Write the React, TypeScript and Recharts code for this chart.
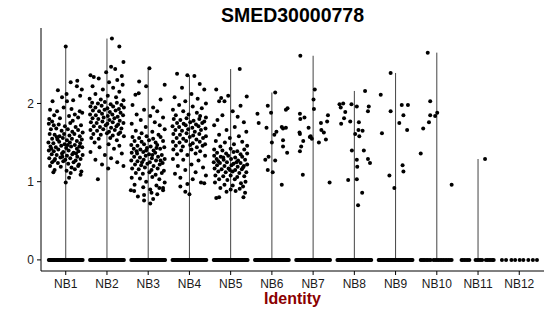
import React from 'react';
import { ComposedChart, Scatter, XAxis, YAxis, ReferenceLine } from 'recharts';

const CATEGORIES = ['NB1', 'NB2', 'NB3', 'NB4', 'NB5', 'NB6', 'NB7', 'NB8', 'NB9', 'NB10', 'NB11', 'NB12'];

// top of each violin (max expression per cluster)
const VIOLIN_MAX = [2.73, 2.83, 2.46, 2.36, 2.44, 2.14, 2.61, 2.16, 2.39, 2.65, 1.29, 0];

// non-zero cells: [jitter offset, expression]
const NB1_PTS = [
  [0.00, 2.73], [0.12, 2.27], [0.28, 2.29], [-0.19, 2.17], [0.02, 2.12], [0.27, 2.22], [0.39, 2.18],
  [-0.32, 2.03], [0.03, 2.03], [0.18, 2.04], [-0.09, 2.08], [0.35, 2.10], [-0.38, 1.92], [-0.21, 1.90],
  [0.34, 1.90], [0.40, 1.88], [-0.05, 1.95], [0.14, 1.93], [-0.28, 1.85], [0.22, 1.86], [0.08, 1.84],
  [-0.40, 1.80], [0.30, 1.82], [-0.14, 1.81], [-0.33, 1.77], [0.17, 1.78],
  [-0.41, 1.74], [-0.29, 1.72], [-0.17, 1.73], [-0.02, 1.71], [0.11, 1.75], [0.24, 1.70], [0.37, 1.72],
  [-0.36, 1.67], [-0.23, 1.68], [-0.10, 1.65], [0.05, 1.67], [0.16, 1.64], [0.30, 1.66], [0.41, 1.63],
  [-0.39, 1.61], [-0.27, 1.60], [-0.15, 1.58], [-0.04, 1.61], [0.09, 1.59], [0.21, 1.61], [0.34, 1.58],
  [-0.33, 1.55], [-0.20, 1.54], [-0.07, 1.56], [0.03, 1.53], [0.15, 1.55], [0.27, 1.52], [0.39, 1.54],
  [-0.42, 1.50], [-0.30, 1.49], [-0.16, 1.51], [-0.03, 1.48], [0.10, 1.50], [0.22, 1.47], [0.35, 1.49],
  [-0.37, 1.45], [-0.24, 1.44], [-0.11, 1.46], [0.01, 1.43], [0.13, 1.45], [0.27, 1.42], [0.40, 1.44],
  [-0.41, 1.40], [-0.29, 1.39], [-0.18, 1.41], [-0.06, 1.38], [0.07, 1.40], [0.19, 1.37], [0.31, 1.39],
  [-0.34, 1.35], [-0.22, 1.34], [-0.09, 1.36], [0.03, 1.33], [0.16, 1.35], [0.28, 1.32], [0.41, 1.34],
  [-0.40, 1.30], [-0.26, 1.29], [-0.13, 1.31], [-0.01, 1.28], [0.11, 1.30], [0.24, 1.27], [0.36, 1.29],
  [-0.33, 1.25], [-0.19, 1.24], [-0.06, 1.26], [0.06, 1.23], [0.19, 1.25], [0.32, 1.22],
  [-0.38, 1.20], [-0.12, 1.19], [0.14, 1.18], [0.30, 1.20], [-0.27, 1.15], [0.02, 1.14], [0.22, 1.16],
  [0.38, 1.13], [0.12, 1.11], [0.36, 1.09], [0.08, 1.05], [-0.30, 1.12], [0.00, 0.99],
  [-0.35, 1.42], [0.05, 1.47], [-0.22, 1.57], [0.25, 1.36], [-0.08, 1.32], [0.33, 1.45], [-0.28, 1.27],
];

const NB2_PTS = [
  [0.12, 2.83], [0.30, 2.73], [0.40, 2.53], [0.10, 2.47], [-0.02, 2.40], [0.20, 2.44], [-0.32, 2.34],
  [-0.40, 2.36], [0.36, 2.35], [0.25, 2.30], [-0.20, 2.32], [0.05, 2.27], [-0.35, 2.22], [0.15, 2.20],
  [0.38, 2.24], [-0.10, 2.18], [0.30, 2.15], [-0.28, 2.12], [0.02, 2.10], [0.22, 2.08], [-0.42, 2.06],
  [-0.15, 2.05], [0.40, 2.04],
  [-0.36, 2.01], [-0.22, 2.00], [-0.05, 2.02], [0.09, 1.99], [0.24, 2.01], [0.35, 1.98],
  [-0.40, 1.96], [-0.28, 1.95], [-0.13, 1.97], [0.01, 1.94], [0.15, 1.96], [0.29, 1.93], [0.41, 1.95],
  [-0.34, 1.91], [-0.19, 1.90], [-0.06, 1.92], [0.07, 1.89], [0.21, 1.91], [0.33, 1.88],
  [-0.41, 1.86], [-0.27, 1.85], [-0.12, 1.87], [0.02, 1.84], [0.13, 1.86], [0.26, 1.83], [0.39, 1.85],
  [-0.35, 1.81], [-0.21, 1.80], [-0.08, 1.82], [0.06, 1.79], [0.18, 1.81], [0.31, 1.78],
  [-0.39, 1.76], [-0.25, 1.75], [-0.11, 1.77], [0.01, 1.74], [0.14, 1.76], [0.27, 1.73], [0.40, 1.75],
  [-0.32, 1.71], [-0.17, 1.70], [-0.03, 1.72], [0.10, 1.69], [0.23, 1.71], [0.35, 1.68],
  [-0.40, 1.66], [-0.24, 1.65], [-0.09, 1.67], [0.05, 1.64], [0.19, 1.66], [0.32, 1.63],
  [-0.33, 1.61], [-0.15, 1.60], [0.00, 1.62], [0.14, 1.59], [0.28, 1.61], [0.41, 1.58],
  [-0.38, 1.56], [-0.20, 1.55], [0.08, 1.56], [0.24, 1.53],
  [-0.30, 1.50], [0.04, 1.48], [0.30, 1.46], [-0.18, 1.44], [0.17, 1.42], [-0.40, 1.38], [0.36, 1.36],
  [-0.05, 1.34], [0.10, 1.30], [-0.28, 1.28], [0.25, 1.25], [-0.12, 1.22], [0.40, 1.20], [0.03, 1.17],
  [-0.22, 1.03],
];

const NB3_PTS = [
  [0.03, 2.45], [-0.22, 2.28], [-0.05, 2.22], [0.40, 2.24], [-0.23, 2.13], [-0.31, 2.11], [0.30, 2.05],
  [-0.38, 1.98], [0.12, 1.95], [-0.10, 1.92], [0.22, 1.90], [-0.28, 1.86], [0.05, 1.84], [0.36, 1.82],
  [-0.18, 1.79], [0.16, 1.76], [-0.40, 1.74], [0.28, 1.72], [-0.06, 1.70], [0.40, 1.67], [-0.30, 1.65],
  [0.10, 1.64], [-0.16, 1.62], [0.25, 1.60],
  [-0.38, 1.57], [-0.22, 1.56], [-0.04, 1.58], [0.12, 1.55], [0.30, 1.57],
  [-0.33, 1.52], [-0.16, 1.51], [0.02, 1.53], [0.18, 1.50], [0.36, 1.52],
  [-0.41, 1.47], [-0.26, 1.46], [-0.10, 1.48], [0.06, 1.45], [0.22, 1.47], [0.39, 1.44],
  [-0.35, 1.42], [-0.19, 1.41], [-0.03, 1.43], [0.13, 1.40], [0.29, 1.42],
  [-0.40, 1.37], [-0.27, 1.36], [-0.12, 1.38], [0.02, 1.35], [0.17, 1.37], [0.33, 1.34],
  [-0.34, 1.32], [-0.20, 1.31], [-0.06, 1.33], [0.09, 1.30], [0.24, 1.32], [0.40, 1.29],
  [-0.41, 1.27], [-0.26, 1.26], [-0.11, 1.28], [0.04, 1.25], [0.19, 1.27], [0.35, 1.24],
  [-0.32, 1.22], [-0.17, 1.21], [-0.02, 1.23], [0.13, 1.20], [0.28, 1.22],
  [-0.39, 1.17], [-0.23, 1.16], [-0.08, 1.18], [0.08, 1.15], [0.23, 1.17], [0.38, 1.14],
  [-0.30, 1.11], [-0.13, 1.10], [0.03, 1.12], [0.18, 1.09], [0.33, 1.11],
  [-0.40, 1.05], [-0.20, 1.04], [0.10, 1.06], [0.27, 1.03], [-0.05, 1.00], [0.40, 0.99],
  [-0.33, 0.96], [0.20, 0.95], [-0.12, 0.93], [0.36, 0.92], [-0.42, 0.89], [-0.34, 0.88], [0.36, 0.89],
  [0.27, 0.92], [0.05, 0.90], [-0.10, 0.83], [0.08, 0.86], [0.22, 0.84], [-0.25, 0.81], [-0.10, 0.76],
  [0.05, 0.72], [0.12, 0.78],
  [-0.28, 1.39], [0.10, 1.34], [-0.15, 1.25], [0.30, 1.27], [-0.05, 1.40], [0.20, 1.43],
];

const NB4_PTS = [
  [-0.30, 2.38], [0.12, 2.35], [0.25, 2.25], [-0.05, 2.36], [0.36, 2.18], [-0.18, 2.20], [0.05, 2.12],
  [-0.36, 2.08], [0.20, 2.06], [-0.10, 2.03], [0.40, 2.00], [-0.25, 1.98], [0.08, 1.96], [0.30, 1.94],
  [-0.40, 1.92], [-0.15, 1.90], [0.18, 1.88],
  [-0.33, 1.85], [-0.02, 1.86], [0.26, 1.84], [0.40, 1.82],
  [-0.38, 1.80], [-0.22, 1.79], [-0.07, 1.81], [0.10, 1.78], [0.24, 1.80], [0.36, 1.77],
  [-0.30, 1.75], [-0.14, 1.74], [0.02, 1.76], [0.16, 1.73], [0.31, 1.75],
  [-0.41, 1.71], [-0.25, 1.70], [-0.09, 1.72], [0.07, 1.69], [0.22, 1.71], [0.39, 1.68],
  [-0.34, 1.66], [-0.18, 1.65], [-0.03, 1.67], [0.13, 1.64], [0.28, 1.66],
  [-0.39, 1.61], [-0.23, 1.60], [-0.07, 1.62], [0.09, 1.59], [0.24, 1.61], [0.40, 1.58],
  [-0.31, 1.56], [-0.15, 1.55], [0.01, 1.57], [0.17, 1.54], [0.33, 1.56],
  [-0.40, 1.51], [-0.24, 1.50], [-0.08, 1.52], [0.08, 1.49], [0.25, 1.51], [0.38, 1.48],
  [-0.33, 1.46], [-0.16, 1.45], [0.02, 1.47], [0.18, 1.44], [0.32, 1.46],
  [-0.39, 1.41], [-0.20, 1.40], [0.05, 1.41], [0.26, 1.39],
  [-0.30, 1.35], [-0.05, 1.34], [0.15, 1.36], [0.38, 1.33],
  [-0.40, 1.29], [-0.15, 1.28], [0.22, 1.27], [0.05, 1.22], [-0.28, 1.20], [0.33, 1.18], [-0.10, 1.15],
  [0.15, 1.12], [-0.35, 1.10], [0.40, 1.08], [-0.22, 1.05], [0.08, 1.03], [-0.05, 0.97], [0.28, 0.99],
  [0.36, 0.98], [-0.22, 0.94], [0.00, 0.84], [-0.10, 0.87],
];

const NB5_PTS = [
  [0.22, 2.44], [-0.35, 2.18], [-0.06, 2.10], [-0.23, 2.07], [0.39, 2.09], [-0.28, 2.03], [-0.15, 2.03],
  [0.24, 1.97], [0.05, 1.90], [0.17, 1.83], [-0.32, 1.79], [-0.20, 1.85], [0.32, 1.76], [-0.40, 1.72],
  [0.10, 1.70], [-0.10, 1.66], [0.38, 1.64], [-0.28, 1.60], [0.20, 1.58], [-0.02, 1.56],
  [-0.36, 1.52], [0.28, 1.51], [-0.14, 1.50], [0.08, 1.48], [0.40, 1.46], [-0.25, 1.45],
  [-0.40, 1.41], [-0.20, 1.40], [0.00, 1.42], [0.16, 1.39], [0.33, 1.41],
  [-0.33, 1.37], [-0.11, 1.36], [0.07, 1.38], [0.24, 1.35], [0.40, 1.36],
  [-0.40, 1.33], [-0.24, 1.32], [-0.06, 1.33], [0.11, 1.31], [0.28, 1.32],
  [-0.34, 1.29], [-0.17, 1.28], [0.01, 1.29], [0.18, 1.27], [0.35, 1.28],
  [-0.41, 1.25], [-0.26, 1.24], [-0.09, 1.25], [0.07, 1.23], [0.24, 1.24], [0.40, 1.22],
  [-0.33, 1.21], [-0.15, 1.20], [0.02, 1.21], [0.17, 1.19], [0.32, 1.20],
  [-0.39, 1.17], [-0.22, 1.16], [-0.05, 1.17], [0.11, 1.15], [0.27, 1.16],
  [-0.30, 1.13], [-0.12, 1.12], [0.05, 1.13], [0.21, 1.11], [0.38, 1.12],
  [-0.37, 1.08], [-0.18, 1.07], [0.00, 1.08], [0.16, 1.06], [0.33, 1.07],
  [-0.28, 1.03], [-0.08, 1.02], [0.10, 1.03], [0.36, 1.00], [0.25, 0.98],
  [-0.38, 0.99], [-0.15, 0.96], [0.05, 0.95], [0.30, 0.94], [-0.25, 0.92], [0.00, 0.90], [0.12, 0.88],
  [0.35, 0.86], [-0.10, 0.87], [0.22, 0.91], [-0.35, 0.79], [-0.28, 0.80], [0.31, 0.80],
  [-0.30, 1.26], [0.14, 1.25], [-0.02, 1.15], [0.30, 1.18], [-0.18, 1.31],
];

const NB6_PTS = [
  [0.08, 2.14], [-0.10, 1.97], [0.34, 1.92], [0.38, 1.94], [-0.35, 1.87], [-0.02, 1.88], [-0.32, 1.75],
  [-0.13, 1.69], [0.24, 1.70], [0.34, 1.69], [0.11, 1.64], [0.27, 1.68], [0.06, 1.60], [0.27, 1.53],
  [0.00, 1.50], [0.27, 1.45], [0.37, 1.37], [-0.08, 1.32], [-0.16, 1.28], [0.08, 1.27], [-0.10, 1.15],
  [0.02, 1.12], [0.24, 0.96],
];

const NB7_PTS = [
  [-0.31, 2.61], [0.04, 2.18], [0.01, 2.05], [0.02, 1.93], [-0.32, 1.87], [-0.31, 1.80], [-0.21, 1.82],
  [-0.11, 1.69], [0.36, 1.85], [0.34, 1.77], [0.19, 1.75], [0.26, 1.63], [0.20, 1.66], [-0.32, 1.61],
  [-0.33, 1.63], [-0.08, 1.57], [-0.06, 1.58], [-0.03, 1.55], [-0.24, 1.52], [0.14, 1.50], [0.31, 1.54],
  [-0.29, 1.45], [-0.32, 1.39], [-0.25, 1.09], [0.40, 0.99],
];

const NB8_PTS = [
  [0.26, 2.16], [-0.36, 1.99], [-0.27, 2.00], [-0.07, 1.99], [0.06, 1.96], [0.35, 1.96], [0.33, 1.90],
  [-0.22, 1.89], [-0.33, 1.95], [-0.25, 1.81], [-0.10, 1.77], [-0.32, 1.74], [0.11, 1.76], [0.02, 1.61],
  [0.10, 1.66], [0.20, 1.65], [0.12, 1.58], [-0.06, 1.40], [0.23, 1.40], [0.06, 1.28], [0.33, 1.29],
  [0.38, 1.24], [0.07, 1.19], [-0.15, 1.02], [0.06, 1.03], [0.19, 0.86], [0.09, 0.70],
];

const NB9_PTS = [
  [-0.12, 2.39], [-0.36, 2.11], [0.15, 1.98], [0.30, 1.98], [-0.12, 1.90], [0.19, 1.85], [0.09, 1.75],
  [0.28, 1.66], [-0.33, 1.62], [0.17, 1.21], [0.19, 1.13], [-0.15, 1.08], [-0.03, 0.92],
];

const NB10_PTS = [
  [-0.22, 2.65], [-0.16, 2.03], [-0.33, 1.68], [-0.19, 1.76], [-0.16, 1.85], [-0.04, 1.84], [0.01, 1.88],
  [-0.39, 1.36], [0.36, 0.96],
];

const NB11_PTS = [[0.17, 1.29]];

const NB12_PTS: number[][] = [];

// jitter offsets of the zero-expression cells
const ZERO_DENSE = [
  -0.41, -0.39, -0.37, -0.35, -0.32, -0.3, -0.28, -0.26, -0.23, -0.21, -0.19, -0.17, -0.14, -0.12,
  -0.1, -0.08, -0.05, -0.03, -0.01, 0.01, 0.03, 0.06, 0.08, 0.1, 0.12, 0.15, 0.17, 0.19, 0.21, 0.24,
  0.26, 0.28, 0.3, 0.33, 0.35, 0.37, 0.39, 0.41,
];
const ZERO_NB10 = [-0.39, -0.36, -0.33, -0.3, -0.26, -0.23, -0.19, -0.15, -0.08, -0.04, 0.0, 0.04, 0.08, 0.12, 0.16, 0.2, 0.24, 0.28, 0.32, 0.36];
const ZERO_NB11 = [-0.4, -0.37, -0.33, -0.29, -0.25, -0.21, -0.06, -0.02, 0.02, 0.06, 0.1, 0.19, 0.23, 0.27, 0.31, 0.35, 0.38];
const ZERO_NB12 = [-0.42, -0.32, -0.19, -0.1, 0.01, 0.1, 0.22, 0.33, 0.43];

const GROUP_PTS = [NB1_PTS, NB2_PTS, NB3_PTS, NB4_PTS, NB5_PTS, NB6_PTS, NB7_PTS, NB8_PTS, NB9_PTS, NB10_PTS, NB11_PTS, NB12_PTS];
const GROUP_ZEROS = [ZERO_DENSE, ZERO_DENSE, ZERO_DENSE, ZERO_DENSE, ZERO_DENSE, ZERO_DENSE, ZERO_DENSE, ZERO_DENSE, ZERO_DENSE, ZERO_NB10, ZERO_NB11, ZERO_NB12];

const points: { x: number; y: number }[] = [];
GROUP_PTS.forEach((pts, i) => {
  GROUP_ZEROS[i].forEach((dx) => points.push({ x: i + 1 + dx, y: 0 }));
  pts.forEach(([dx, y]) => points.push({ x: i + 1 + dx, y }));
});

const FONT = '"Liberation Sans", Arial, Helvetica, sans-serif';

const Dot = (props: any) => <circle cx={props.cx} cy={props.cy} r={2} fill="#000" />;

const App = () => {
  return (
    <div style={{ position: 'absolute', left: 0, top: 0, width: 550, height: 316, background: '#fff', fontFamily: FONT }}>
      <div
        style={{
          position: 'absolute', left: 41, top: 5, width: 503, textAlign: 'center',
          fontSize: 19.5, lineHeight: '20px', fontWeight: 'bold', color: '#000',
        }}
      >
        SMED30000778
      </div>
      <ComposedChart width={550} height={316} margin={{ top: 28, right: 6, bottom: 0, left: 0 }}>
        <XAxis
          type="number"
          dataKey="x"
          domain={[0.4, 12.6]}
          ticks={[1, 2, 3, 4, 5, 6, 7, 8, 9, 10, 11, 12]}
          tickFormatter={(v: number) => CATEGORIES[v - 1]}
          allowDataOverflow
          height={45}
          stroke="#000"
          tickSize={4}
          tickMargin={4}
          tick={{ fill: '#1a1a1a', fontSize: 12, fontFamily: FONT }}
        />
        <YAxis
          type="number"
          dataKey="y"
          domain={[-0.142, 2.965]}
          ticks={[0, 1, 2]}
          allowDataOverflow
          width={41}
          stroke="#000"
          tickSize={4}
          tickMargin={3}
          tick={{ fill: '#1a1a1a', fontSize: 12, fontFamily: FONT }}
        />
        {VIOLIN_MAX.map((m, i) =>
          m > 0 ? (
            <ReferenceLine
              key={CATEGORIES[i]}
              segment={[{ x: i + 1, y: 0 }, { x: i + 1, y: m }]}
              stroke="#444"
              strokeWidth={1}
            />
          ) : null
        )}
        <Scatter data={points} shape={Dot} isAnimationActive={false} />
      </ComposedChart>
      <div
        style={{
          position: 'absolute', left: 41, top: 291, width: 503, textAlign: 'center',
          fontSize: 16, lineHeight: '16px', fontWeight: 'bold', color: '#8B0000',
        }}
      >
        Identity
      </div>
    </div>
  );
};

export default App;
